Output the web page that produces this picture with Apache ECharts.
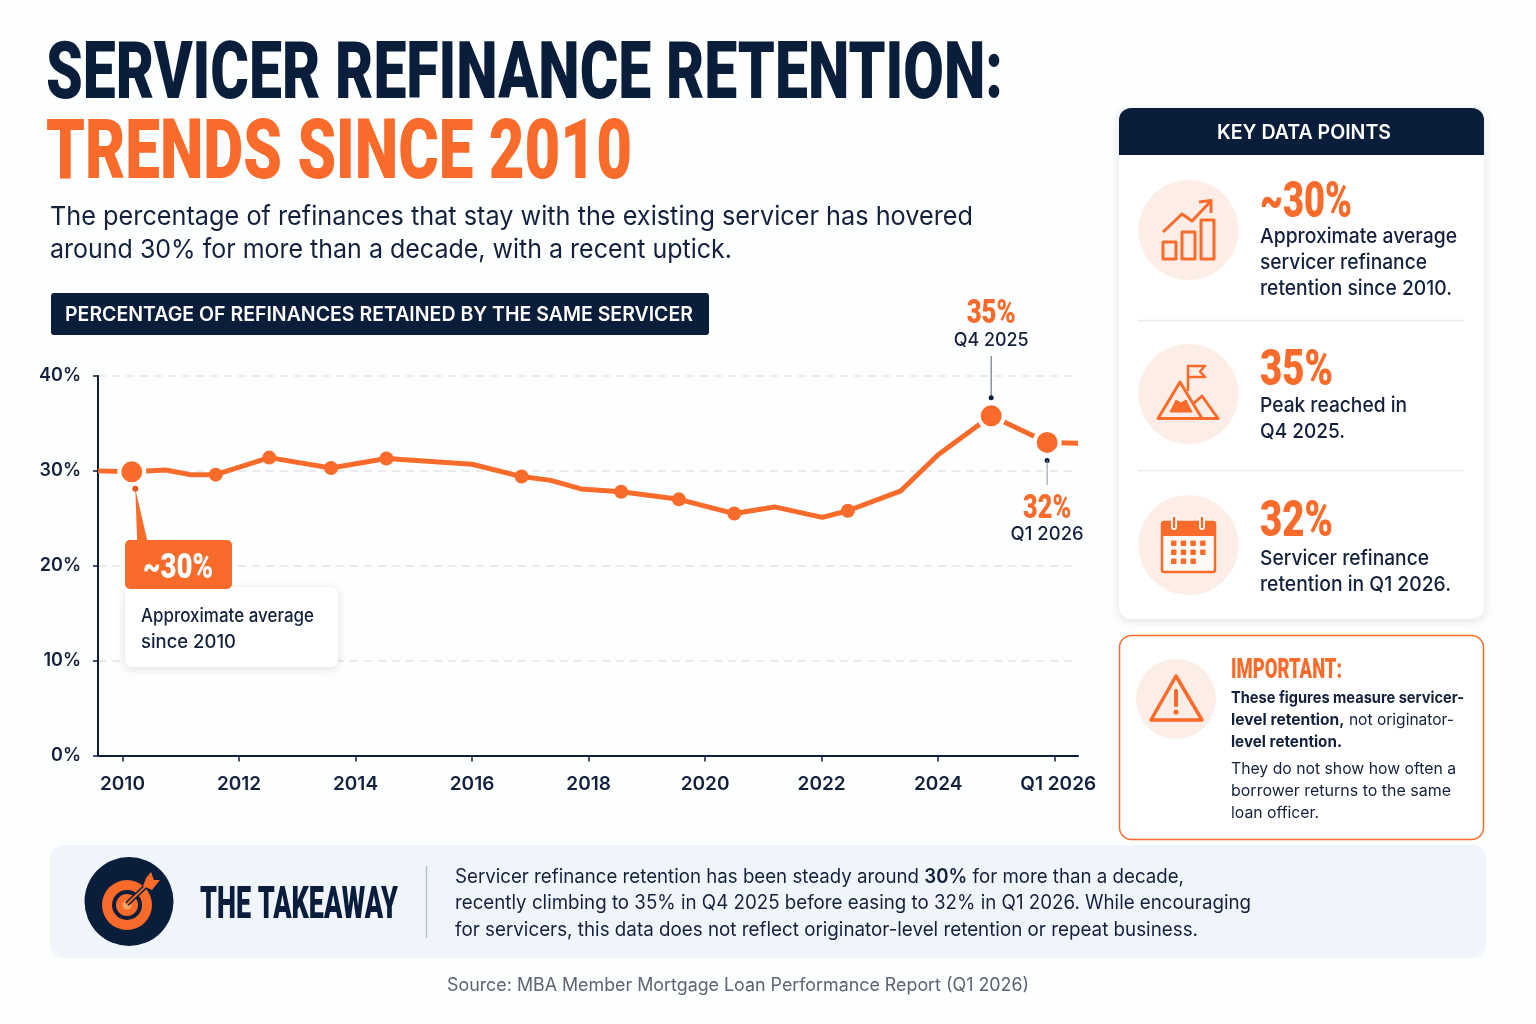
<!DOCTYPE html>
<html style="width: 100%; height: 100%">
<head>
    <meta charset="utf-8">
    <script src="https://cdn.jsdelivr.net/npm/echarts@6/dist/echarts.min.js"></script>
</head>
<body style="width: 100%; height: 100%; margin: 0; background: #fff">
<div id="container" style="width: 1536px; height: 1024px"></div>

<script type="text/javascript">
    // values, x is in (fractional) years
    var retentionYears = [2009.58, 2010.16, 2010.74, 2011.16, 2011.60, 2012.52, 2013.58, 2014.53, 2016.00, 2016.85, 2017.35, 2017.87,
        2018.56, 2019.55, 2020.50, 2021.19, 2022.01, 2022.45, 2023.36, 2024.00, 2024.91, 2025.87, 2026.40];
    var retentionValues = [30.0, 29.9, 30.1, 29.6, 29.6, 31.4, 30.3, 31.3, 30.7, 29.4, 29.0, 28.1,
        27.8, 27.0, 25.5, 26.2, 25.1, 25.8, 27.9, 31.7, 35.8, 33.0, 32.9];
    var smallDotIndex = [4, 5, 6, 7, 9, 12, 13, 14, 17];
    var bigDotIndex = [1, 20, 21];
    var yearTicks = [2010, 2012, 2014, 2016, 2018, 2020, 2022, 2024, 2026];

    var NAVY = '#0A1D3A';
    var INK = '#13213C';
    var ORANGE = '#F96B2B';
    var PEACH = '#FCEEE6';
    var BODY = 'Inter, "Noto Sans", sans-serif';
    var HEAD = 'Roboto, sans-serif';

    var dom = document.getElementById('container');
    var myChart = echarts.init(dom);
    var measureCtx = document.createElement('canvas').getContext('2d');

    function pick(list) {
        return list.map(function (i) {
            return [retentionYears[i], retentionValues[i]];
        });
    }

    myChart.setOption({
        backgroundColor: '#FDFEFE',
        animation: false,
        grid: {left: 98, top: 376, width: 980, height: 379.5},
        xAxis: {
            type: 'value',
            min: 2009.58,
            max: 2026.4,
            splitLine: {show: false},
            axisLine: {lineStyle: {color: NAVY, width: 2}},
            axisTick: {customValues: yearTicks, length: 6, lineStyle: {color: NAVY, width: 1.5}},
            axisLabel: {
                customValues: yearTicks,
                margin: 19,
                color: INK,
                fontFamily: BODY,
                fontWeight: 600,
                fontSize: 19,
                formatter: function (v) {
                    return v === 2026 ? '{last|Q1 2026}' : String(v);
                },
                rich: {
                    last: {color: INK, fontFamily: BODY, fontWeight: 600, fontSize: 19, padding: [0, 0, 0, 7]}
                }
            }
        },
        yAxis: {
            type: 'value',
            min: 0,
            max: 40,
            interval: 10,
            axisLine: {show: true, lineStyle: {color: NAVY, width: 2}},
            axisTick: {show: true, length: 5, lineStyle: {color: NAVY, width: 1.5}},
            axisLabel: {
                margin: 17,
                padding: [3, 0, 0, 0],
                color: INK,
                fontFamily: BODY,
                fontWeight: 600,
                fontSize: 18,
                formatter: '{value}%'
            },
            splitLine: {lineStyle: {color: '#E3E5E8', width: 1.5, type: [8, 6]}}
        },
        series: [
            {
                type: 'line',
                symbol: 'none',
                z: 3,
                lineStyle: {color: ORANGE, width: 5},
                data: retentionYears.map(function (y, i) {
                    return [y, retentionValues[i]];
                })
            },
            {
                type: 'scatter',
                symbolSize: 14,
                z: 4,
                itemStyle: {color: ORANGE, opacity: 1},
                data: pick(smallDotIndex)
            },
            {
                type: 'scatter',
                symbolSize: 25,
                z: 5,
                itemStyle: {color: ORANGE, opacity: 1, borderColor: '#fff', borderWidth: 4},
                data: pick(bigDotIndex)
            }
        ]
    });

    // ---- helpers for the infographic part around the chart
    function widthOf(str, font) {
        measureCtx.font = font;
        return measureCtx.measureText(str).width;
    }

    // width: target width, the type is squeezed to it
    function text(str, x, y, weight, size, fill, width, align) {
        var font = weight + ' ' + size + 'px ' + BODY;
        return {
            type: 'text', x: x, y: y + 1, z: 20,
            scaleX: width ? width / widthOf(str, font) : 1,
            style: {text: str, font: font, fill: fill, align: align || 'left', verticalAlign: 'middle'}
        };
    }

    // condensed display type: no narrow face is installed
    function squeezed(str, x, y, size, width, fill, align) {
        var font = '900 ' + size + 'px ' + HEAD;
        return {
            type: 'text', x: x, y: y + size * 0.11, z: 20,
            scaleX: width / widthOf(str, font),
            style: {text: str, font: font, fill: fill, align: align || 'left', verticalAlign: 'middle'}
        };
    }

    // segments: [weight, string] pairs on one line
    function rich(segments, x, y, size, fill, width) {
        var total = 0;
        var str = '';
        var styles = {};
        segments.forEach(function (seg, i) {
            var font = seg[0] + ' ' + size + 'px ' + BODY;
            total += widthOf(seg[1], font);
            str += '{s' + i + '|' + seg[1] + '}';
            styles['s' + i] = {font: font, fill: fill};
        });
        return {
            type: 'text', x: x, y: y + 1, z: 20,
            scaleX: width / total,
            style: {text: str, font: '400 ' + size + 'px ' + BODY, fill: fill, verticalAlign: 'middle', rich: styles}
        };
    }

    function rect(x, y, w, h, r, fill, extra, z) {
        var style = {fill: fill};
        for (var k in extra) style[k] = extra[k];
        return {type: 'rect', z: z || 10, shape: {x: x, y: y, width: w, height: h, r: r}, style: style};
    }

    function circle(cx, cy, r, fill, z) {
        return {type: 'circle', z: z || 11, shape: {cx: cx, cy: cy, r: r}, style: {fill: fill}};
    }

    function poly(points, closed, width, fill) {
        return {
            type: closed ? 'polygon' : 'polyline', z: 12,
            shape: {points: points},
            style: {fill: fill || (closed ? 'none' : null), stroke: ORANGE, lineWidth: width || 3, lineJoin: 'round'}
        };
    }

    function hline(x1, y1, x2, y2, color, width) {
        return {
            type: 'line', z: 12,
            shape: {x1: x1, y1: y1, x2: x2, y2: y2},
            style: {stroke: color, lineWidth: width}
        };
    }

    var cardShadow = {shadowBlur: 10, shadowColor: 'rgba(20,35,60,0.14)', shadowOffsetY: 2};
    var els = [];

    // title block
    els.push(squeezed('SERVICER REFINANCE RETENTION:', 46, 70, 79, 957, NAVY));
    els.push(squeezed('TRENDS SINCE 2010', 46, 148, 84, 586, ORANGE));
    els.push(text('The percentage of refinances that stay with the existing servicer has hovered', 50, 216, 400, 26, INK, 923));
    els.push(text('around 30% for more than a decade, with a recent uptick.', 50, 249, 400, 26, INK, 682));

    // chart label
    els.push(rect(51, 293, 658, 42, 3, NAVY));
    els.push(text('PERCENTAGE OF REFINANCES RETAINED BY THE SAME SERVICER', 65, 314, 600, 19.5, '#fff', 628));

    // callouts hang off the data points
    var startPt = myChart.convertToPixel({gridIndex: 0}, pick([bigDotIndex[0]])[0]);
    var peakPt = myChart.convertToPixel({gridIndex: 0}, pick([bigDotIndex[1]])[0]);
    var lastPt = myChart.convertToPixel({gridIndex: 0}, pick([bigDotIndex[2]])[0]);

    els.push(rect(125, 587, 213, 80, 7, '#fff', cardShadow));
    els.push({
        type: 'polygon', z: 11,
        shape: {points: [[startPt[0] + 3.5, startPt[1] + 17], [startPt[0] + 5.5, 545], [startPt[0] + 16.5, 545]]},
        style: {fill: ORANGE}
    });
    els.push(circle(startPt[0] + 3.5, startPt[1] + 17, 3, '#E4561C', 12));
    els.push(rect(125, 540, 107, 49, 5, ORANGE));
    els.push(squeezed('~30%', 178, 565, 35, 70, '#fff', 'center'));
    els.push(text('Approximate average', 141, 615, 500, 18.5, INK, 173));
    els.push(text('since 2010', 141, 641, 500, 18.5, INK, 95));

    els.push(squeezed('35%', peakPt[0], 311, 33, 49, ORANGE, 'center'));
    els.push(text('Q4 2025', peakPt[0], 339, 500, 19, INK, 75, 'center'));
    els.push(hline(peakPt[0], 356, peakPt[0], peakPt[1] - 18, '#55606F', 1));
    els.push(circle(peakPt[0], peakPt[1] - 18, 2.5, NAVY, 12));

    els.push(circle(lastPt[0], lastPt[1] + 18, 2.5, NAVY, 12));
    els.push(hline(lastPt[0], lastPt[1] + 18, lastPt[0], 485, '#8A93A0', 1));
    els.push(squeezed('32%', lastPt[0], 506, 33, 48, ORANGE, 'center'));
    els.push(text('Q1 2026', lastPt[0], 533, 500, 19, INK, 73, 'center'));

    // key data panel
    els.push(rect(1119, 108, 365, 511, 12, '#fff', cardShadow));
    els.push(rect(1119, 108, 365, 47, [12, 12, 0, 0], NAVY));
    els.push(text('KEY DATA POINTS', 1304, 132, 600, 20, '#fff', 174, 'center'));
    els.push(hline(1138, 320.5, 1464, 320.5, '#E8EBEF', 1.5));
    els.push(hline(1138, 470.5, 1464, 470.5, '#E8EBEF', 1.5));

    els.push(circle(1188.5, 230, 50, PEACH));
    els.push(squeezed('~30%', 1260, 199, 50, 92, ORANGE));
    els.push(text('Approximate average', 1260, 236, 500, 20.5, INK, 197));
    els.push(text('servicer refinance', 1260, 262, 500, 20.5, INK, 167));
    els.push(text('retention since 2010.', 1260, 288, 500, 20.5, INK, 192));

    els.push(circle(1188.5, 394, 50, PEACH));
    els.push(squeezed('35%', 1260, 367, 50, 73, ORANGE));
    els.push(text('Peak reached in', 1260, 405, 500, 20.5, INK, 147));
    els.push(text('Q4 2025.', 1260, 431, 500, 20.5, INK, 85));

    els.push(circle(1188.5, 545, 50, PEACH));
    els.push(squeezed('32%', 1260, 518, 50, 73, ORANGE));
    els.push(text('Servicer refinance', 1260, 558, 500, 20.5, INK, 169));
    els.push(text('retention in Q1 2026.', 1260, 584, 500, 20.5, INK, 191));

    // growth icon
    els.push(poly([[1163, 242], [1176, 242], [1176, 259], [1163, 259]], true));
    els.push(poly([[1182, 232], [1195, 232], [1195, 259], [1182, 259]], true));
    els.push(poly([[1201, 220], [1214, 220], [1214, 259], [1201, 259]], true));
    els.push(poly([[1163, 232], [1182, 214], [1192, 221], [1210, 202]], false));
    els.push(poly([[1199, 202], [1211, 200.5], [1211, 213]], false));

    // peak icon
    els.push(poly([[1176, 400], [1181, 403], [1186, 400], [1192, 412], [1170, 412]], true, 1, ORANGE));
    els.push(poly([[1158, 418.5], [1180, 382], [1202, 418.5]], true));
    els.push(poly([[1193, 404], [1202, 396], [1218, 418.5], [1158, 418.5]], false));
    els.push(poly([[1188, 391], [1188, 366], [1205, 366], [1200, 371.5], [1205, 377], [1188, 377]], false, 2.5));

    // calendar icon
    els.push(rect(1162, 522, 53, 50, 2, '#FFF9F5', {stroke: ORANGE, lineWidth: 2.5}, 12));
    els.push(rect(1162, 522, 53, 14, [2, 2, 0, 0], ORANGE, {}, 12));
    [1174, 1202].forEach(function (x) {
        els.push({type: 'line', z: 13, shape: {x1: x, y1: 518, x2: x, y2: 527}, style: {stroke: '#fff', lineWidth: 6, lineCap: 'round'}});
        els.push({type: 'line', z: 14, shape: {x1: x, y1: 518, x2: x, y2: 527}, style: {stroke: ORANGE, lineWidth: 2.5, lineCap: 'round'}});
    });
    [[543, 4], [552, 4], [561, 3]].forEach(function (row) {
        for (var c = 0; c < row[1]; c++) {
            els.push(rect(1171 + c * 9.7, row[0] - 2.5, 5.5, 5.5, 1, ORANGE, {}, 13));
        }
    });

    // important box
    els.push(rect(1119.5, 635.5, 364, 204, 12, '#fff', {stroke: ORANGE, lineWidth: 1.5}));
    els.push(circle(1176, 699, 40, PEACH));
    els.push(poly([[1176, 676], [1151, 720], [1202, 720]], true, 3.5));
    els.push(rect(1174, 689, 4, 18, 1.5, ORANGE, {}, 13));
    els.push(circle(1176, 712, 2.6, ORANGE, 13));
    els.push(squeezed('IMPORTANT:', 1231, 668, 27, 111, ORANGE));
    els.push(rich([[700, 'These figures measure servicer-']], 1231, 697, 16, INK, 233));
    els.push(rich([[700, 'level retention,'], [400, ' not originator-']], 1231, 719, 16, INK, 223));
    els.push(rich([[700, 'level retention.']], 1231, 741, 16, INK, 111));
    els.push(text('They do not show how often a', 1231, 768, 400, 16, INK, 225));
    els.push(text('borrower returns to the same', 1231, 790, 400, 16, INK, 220));
    els.push(text('loan officer.', 1231, 812, 400, 16, INK, 88));

    // takeaway strip
    els.push(rect(50, 845, 1436, 113, 14, '#F0F5FC'));
    els.push(circle(129, 901.5, 44.5, NAVY));
    els.push(circle(127, 905, 25, ORANGE, 12));
    els.push(circle(127, 905, 15, NAVY, 13));
    els.push(circle(127, 905, 11, ORANGE, 14));
    els.push(circle(127, 905, 4.5, '#F7A26A', 15));
    els.push({type: 'line', z: 15, shape: {x1: 127, y1: 904, x2: 148, y2: 884}, style: {stroke: NAVY, lineWidth: 5}});
    els.push({type: 'line', z: 16, shape: {x1: 127, y1: 904, x2: 148, y2: 884}, style: {stroke: ORANGE, lineWidth: 2}});
    els.push({
        type: 'polygon', z: 16,
        shape: {points: [[146, 878], [151, 872], [154, 880], [160, 880], [152, 890], [143, 886]]},
        style: {fill: ORANGE}
    });
    els.push(squeezed('THE TAKEAWAY', 200, 902, 45, 198, NAVY));
    els.push(hline(426.5, 866, 426.5, 938, '#B9C2CE', 1.5));
    els.push(rich([[400, 'Servicer refinance retention has been steady around '], [600, '30%'], [400, ' for more than a decade,']], 455, 876, 19.5, INK, 729));
    els.push(text('recently climbing to 35% in Q4 2025 before easing to 32% in Q1 2026. While encouraging', 455, 902, 400, 19.5, INK, 796));
    els.push(text('for servicers, this data does not reflect originator-level retention or repeat business.', 455, 929, 400, 19.5, INK, 743));

    els.push(text('Source: MBA Member Mortgage Loan Performance Report (Q1 2026)', 738, 985, 400, 18, '#5A6472', 582, 'center'));

    myChart.setOption({graphic: {elements: els}});
</script>
</body>

</html>
